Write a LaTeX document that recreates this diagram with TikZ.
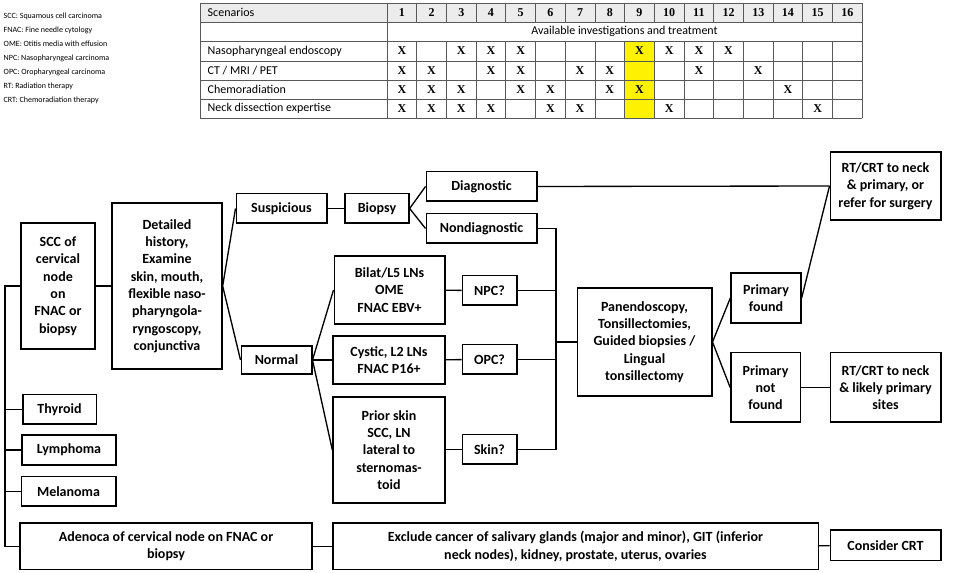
\documentclass[tikz,border=0pt]{standalone}
\usepackage{fontspec}
\setmainfont{Carlito}
\newfontfamily\serifx{Liberation Serif}
\usetikzlibrary{positioning}
\tikzset{
  box/.style={draw, line width=1pt, align=center, inner sep=1pt, font=\bfseries\fontsize{10.5}{13}\selectfont},
  link/.style={line width=1pt},
  tick/.style={font=\serifx\bfseries\fontsize{9}{10}\selectfont},
  rowtxt/.style={anchor=west, font=\fontsize{9}{10}\selectfont},
  legend/.style={anchor=west, font=\fontsize{6}{7}\selectfont}
}
\begin{document}
\begin{tikzpicture}[x=0.75pt, y=-0.75pt]
  \useasboundingbox (0,0) rectangle (958,573);
  % legend
  \foreach \t [count=\i] in {SCC: Squamous cell carcinoma, FNAC: Fine needle cytology,
      OME: Otitis media with effusion, NPC: Nasopharyngeal carcinoma,
      OPC: Oropharyngeal carcinoma, RT: Radiation therapy, CRT: Chemoradiation therapy}
    \node[legend] at (-1,2+14*\i) {\t};
  % table
  \fill[gray!15] (200,3) rectangle (862,22);
  \fill[yellow] (624.6,41) rectangle (654.3,118);
  \foreach \y in {3,22,41,61,80,99,118}
    \draw[gray!70!black, line width=0.6pt] (200,\y) -- (862,\y);
  \foreach \k in {0,...,16}
    \draw[gray!70!black, line width=0.6pt] (387+29.7*\k,3) -- (387+29.7*\k,22)
      (387+29.7*\k,41) -- (387+29.7*\k,118);
  \draw[gray!70!black, line width=0.6pt] (200,3) -- (200,118) (387,22) -- (387,41) (862,22) -- (862,41);
  \node[rowtxt] at (203,12.5) {Scenarios};
  \foreach \k in {1,...,16}
    \node[tick] at (372.15+29.7*\k,12.5) {\k};
  \node[font=\fontsize{9}{10}\selectfont] at (624.5,31.5) {Available investigations and treatment};
  \foreach \y/\t/\cols in {51/{Nasopharyngeal endoscopy}/{1,3,4,5,9,10,11,12},
      70.5/{CT / MRI / PET}/{1,2,4,5,7,8,11,13},
      89.5/{Chemoradiation}/{1,2,3,5,6,8,9,14},
      108.5/{Neck dissection expertise}/{1,2,3,4,6,7,10,15}}{
    \node[rowtxt] at (203,\y) {\t};
    \foreach \k in \cols
      \node[tick] at (372.15+29.7*\k,\y) {X};
  }
  % flowchart
  \node[box, minimum width=55.5pt, minimum height=94.5pt] (scc) at (58,286) {SCC of\\cervical\\node\\on\\FNAC or\\biopsy};
  \node[box, minimum width=82.5pt, minimum height=124.5pt] (hist) at (167,286) {Detailed\\history,\\Examine\\skin, mouth,\\flexible naso-\\pharyngola-\\ryngoscopy,\\conjunctiva};
  \node[box, minimum width=68pt, minimum height=22pt] (susp) at (281.5,208.5) {Suspicious};
  \node[box, minimum width=48pt, minimum height=22pt] (biop) at (377,208.5) {Biopsy};
  \node[box, minimum width=83pt, minimum height=22pt] (diag) at (481.5,186.5) {Diagnostic};
  \node[box, minimum width=83pt, minimum height=22pt] (nond) at (481.5,228.5) {Nondiagnostic};
  \node[box, minimum width=83pt, minimum height=51pt] (rtone) at (885.5,186) {RT/CRT to neck\\\& primary, or\\refer for surgery};
  \node[box, minimum width=53pt, minimum height=21pt] (norm) at (276.5,360) {Normal};
  \node[box, minimum width=83pt, minimum height=51pt] (bilat) at (389.5,290) {Bilat/L5 LNs\\OME\\FNAC EBV+};
  \node[box, minimum width=84pt, minimum height=36pt] (cyst) at (389,360) {Cystic, L2 LNs\\FNAC P16+};
  \node[box, minimum width=84pt, minimum height=79.5pt] (prior) at (389,450) {Prior skin\\SCC, LN\\lateral to\\sternomas-\\toid};
  \node[box, minimum width=41pt, minimum height=22pt] (npc) at (489.5,290.5) {NPC?};
  \node[box, minimum width=41pt, minimum height=22pt] (opc) at (489.5,359.5) {OPC?};
  \node[box, minimum width=41pt, minimum height=22pt] (skin) at (489.5,449.5) {Skin?};
  \node[box, minimum width=101pt, minimum height=81pt] (pan) at (644.5,342) {Panendoscopy,\\Tonsillectomies,\\Guided biopsies /\\Lingual\\tonsillectomy};
  \node[box, minimum width=52.5pt, minimum height=37.5pt] (found) at (766,298) {Primary\\found};
  \node[box, minimum width=52pt, minimum height=52pt] (notf) at (765.5,387.5) {Primary\\not\\found};
  \node[box, minimum width=83pt, minimum height=52pt] (rttwo) at (885.5,387.5) {RT/CRT to neck\\\& likely primary\\sites};
  \node[box, minimum width=55pt, minimum height=22pt] (thyr) at (59.5,409.5) {Thyroid};
  \node[box, minimum width=70.5pt, minimum height=22.5pt] (lymph) at (69,450) {Lymphoma};
  \node[box, minimum width=71pt, minimum height=22pt] (mela) at (68.5,491.5) {Melanoma};
  \node[box, minimum width=219pt, minimum height=35pt] (adeno) at (166,546.5) {Adenoca of cervical node on FNAC or\\biopsy};
  \node[box, minimum width=364pt, minimum height=35pt] (excl) at (575.5,546.5) {Exclude cancer of salivary glands (major and minor), GIT (inferior\\neck nodes), kidney, prostate, uterus, ovaries};
  \node[box, minimum width=83pt, minimum height=23pt] (crt) at (885.5,545.5) {Consider CRT};
  \coordinate (left) at (5,286);
  \coordinate (bus) at (556,342);
  % connectors
  \draw[link] (scc.west) -- (left) |- (adeno.west);
  \foreach \n in {thyr,lymph,mela}
    \draw[link] (left |- \n.west) -- (\n.west);
  \draw[link] (scc) -- (hist);
  \draw[link] (hist.east) -- (susp.west);
  \draw[link] (hist.east) -- (norm.west);
  \draw[link] (susp) -- (biop);
  \draw[link] (biop.east) -- (diag.west);
  \draw[link] (biop.east) -- (nond.west);
  \draw[link] (diag.east) -- (rtone.west);
  \foreach \n in {bilat,cyst,prior}
    \draw[link] (norm.east) -- (\n.west);
  \draw[link] (bilat) -- (npc);
  \draw[link] (cyst) -- (opc);
  \draw[link] (prior.east |- skin) -- (skin);
  \draw[link] (nond.east) -| (bus |- skin.east) -- (skin.east);
  \draw[link] (npc.east) -- (bus |- npc.east);
  \draw[link] (opc.east) -- (bus |- opc.east);
  \draw[link] (bus) -- (pan.west);
  \draw[link] (pan.east) -- (found.west);
  \draw[link] (pan.east) -- (notf.west);
  \draw[link] (found.east) -- (rtone.west);
  \draw[link] (notf) -- (rttwo);
  \draw[link] (adeno) -- (excl);
  \draw[link] (excl) -- (crt);
\end{tikzpicture}
\end{document}
